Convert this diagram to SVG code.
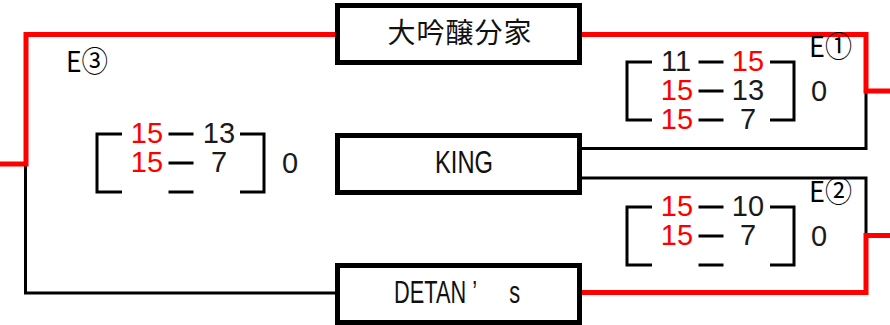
<svg xmlns="http://www.w3.org/2000/svg" width="890" height="325" viewBox="0 0 890 325">
<style>
.box{fill:#fff;stroke:#000;stroke-width:5}
.win{fill:none;stroke:#ff0000;stroke-width:5}
.lose{fill:none;stroke:#000;stroke-width:3}
.br{fill:none;stroke:#000;stroke-width:3}
.sc{font-family:"Liberation Sans","DejaVu Sans",sans-serif;font-size:29px;text-anchor:middle}
.r{fill:#ff0000}
.k{fill:#1a1a1a}
.lbl{font-family:"Noto Sans CJK JP","Liberation Sans",sans-serif;font-size:29px;fill:#000}
.name{font-family:"Liberation Sans","Noto Sans CJK JP",sans-serif;font-size:32px;fill:#111}
.jp{font-family:"Noto Sans CJK JP",sans-serif;font-size:28px;fill:#111}
</style>
<defs>
<g id="bracket">
<path class="br" d="M122 0H97V58H122M240 0H264V58H240"/>
<path class="br" d="M168.5 0H193.5M168.5 29H193.5M168.5 58H193.5"/>
</g>
</defs>
<g id="connectors">
<path class="lose" d="M25.5 166V293H336"/>
<path class="win" d="M336 34.5H26V164H0"/>
<path class="lose" d="M582 148.5H866V92"/>
<path class="win" d="M582 34.5H866V91H890"/>
<path class="lose" d="M582 178H866V235"/>
<path class="win" d="M582 292.5H866V235.5H890"/>
</g>
<g id="node-daiginjo">
<rect class="box" x="337.5" y="5.5" width="242" height="57"/>
<text class="jp" x="460" y="43" text-anchor="middle" letter-spacing="1">大吟醸分家</text>
</g>
<g id="node-king">
<rect class="box" x="337.5" y="135.5" width="242" height="57"/>
<text class="name" x="435" y="173" textLength="58" lengthAdjust="spacingAndGlyphs">KING</text>
</g>
<g id="node-detans">
<rect class="box" x="337.5" y="265.5" width="242" height="57"/>
<text class="name" transform="translate(394 303) scale(0.68 1)" x="0" y="0" dx="0 0 0 0 0 9 48">DETAN’s</text>
</g>
<g id="match-e3">
<text class="lbl" x="66" y="72" textLength="42" lengthAdjust="spacingAndGlyphs">E③</text>
<use href="#bracket" x="0" y="134"/>
<text class="sc r" x="147" y="143">15</text>
<text class="sc k" x="219" y="143">13</text>
<text class="sc r" x="147" y="172">15</text>
<text class="sc k" x="219" y="172">7</text>
<text class="sc k" x="290" y="173">0</text>
</g>
<g id="match-e1">
<text class="lbl" x="809" y="57" textLength="43" lengthAdjust="spacingAndGlyphs">E①</text>
<use href="#bracket" x="530" y="62"/>
<text class="sc k" x="676" y="71">11</text>
<text class="sc r" x="748" y="71">15</text>
<text class="sc r" x="677" y="100">15</text>
<text class="sc k" x="748" y="100">13</text>
<text class="sc r" x="677" y="129">15</text>
<text class="sc k" x="748" y="129">7</text>
<text class="sc k" x="819" y="101">0</text>
</g>
<g id="match-e2">
<text class="lbl" x="809" y="202" textLength="43" lengthAdjust="spacingAndGlyphs">E②</text>
<use href="#bracket" x="530" y="207"/>
<text class="sc r" x="677" y="216">15</text>
<text class="sc k" x="748" y="216">10</text>
<text class="sc r" x="677" y="245">15</text>
<text class="sc k" x="748" y="245">7</text>
<text class="sc k" x="819" y="246">0</text>
</g>
</svg>
